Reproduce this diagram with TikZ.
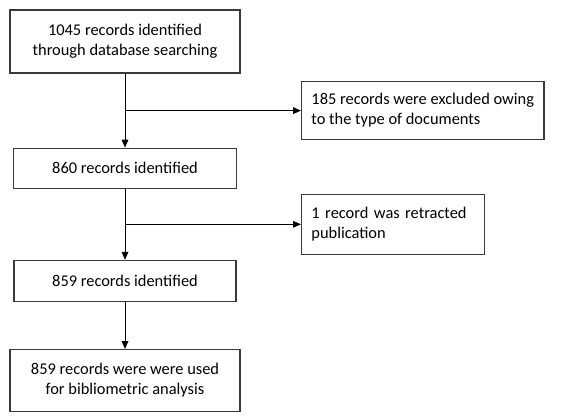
\documentclass[tikz,border=0pt]{standalone}
\usepackage{fontspec}
\setmainfont{Carlito}
\usetikzlibrary{arrows.meta,positioning,calc}
\definecolor{boxBorder}{HTML}{3A3A3A}

\begin{document}
\begin{tikzpicture}[
            x=0.75pt, y=-0.75pt,
            box/.style={
                    rectangle,
                    draw=boxBorder,
                    line width=0.9pt,
                    inner sep=0pt,
                    align=center,
                    font=\fontsize{12.3pt}{15pt}\selectfont
                },
            sidebox/.style={
                    rectangle,
                    draw=boxBorder,
                    line width=0.9pt,
                    inner xsep=7.4pt,
                    inner ysep=0pt,
                    align=left,
                    font=\fontsize{12.3pt}{15pt}\selectfont
                },
            arrow/.style={
                    -{Triangle[length=6pt,width=5pt]},
                    line width=0.75pt
                }
        ]
        \useasboundingbox (0,0) rectangle (571,418);

        % Main flow
        \node[box, minimum width=172.5pt, minimum height=47.25pt] (found) at (125,41.5)
            {1045 records identified\\through database searching};

        \node[box, minimum width=167.25pt, minimum height=30pt, below=55.5pt of found] (kept)
            {860 records identified};

        \node[box, minimum width=166.5pt, minimum height=30.75pt, below=53.25pt of kept] (left)
            {859 records identified};

        \node[box, minimum width=172.5pt, minimum height=46.5pt, below=35.25pt of left] (used)
            {859 records were were used\\for bibliometric analysis};

        % Split points
        \coordinate (split1) at ($(found.south)!0.5!(kept.north)$);
        \coordinate (split2) at ($(kept.south)!0.5!(left.north)$);

        % Exclusions
        \node[sidebox, minimum width=180.75pt, minimum height=43.5pt, right=132pt of split1] (excl)
            {185 records were excluded owing\\to the type of documents};

        \node[sidebox, text width=122.5pt, minimum height=45pt, right=132pt of split2] (retr)
            {1 record was retracted\\publication};

        % Connectors
        \draw[arrow] (found) -- (kept);
        \draw[arrow] (kept) -- (left);
        \draw[arrow] (left) -- (used);

        \draw[arrow] (split1) -- (excl);
        \draw[arrow] (split2) -- (retr);

    \end{tikzpicture}
\end{document}
